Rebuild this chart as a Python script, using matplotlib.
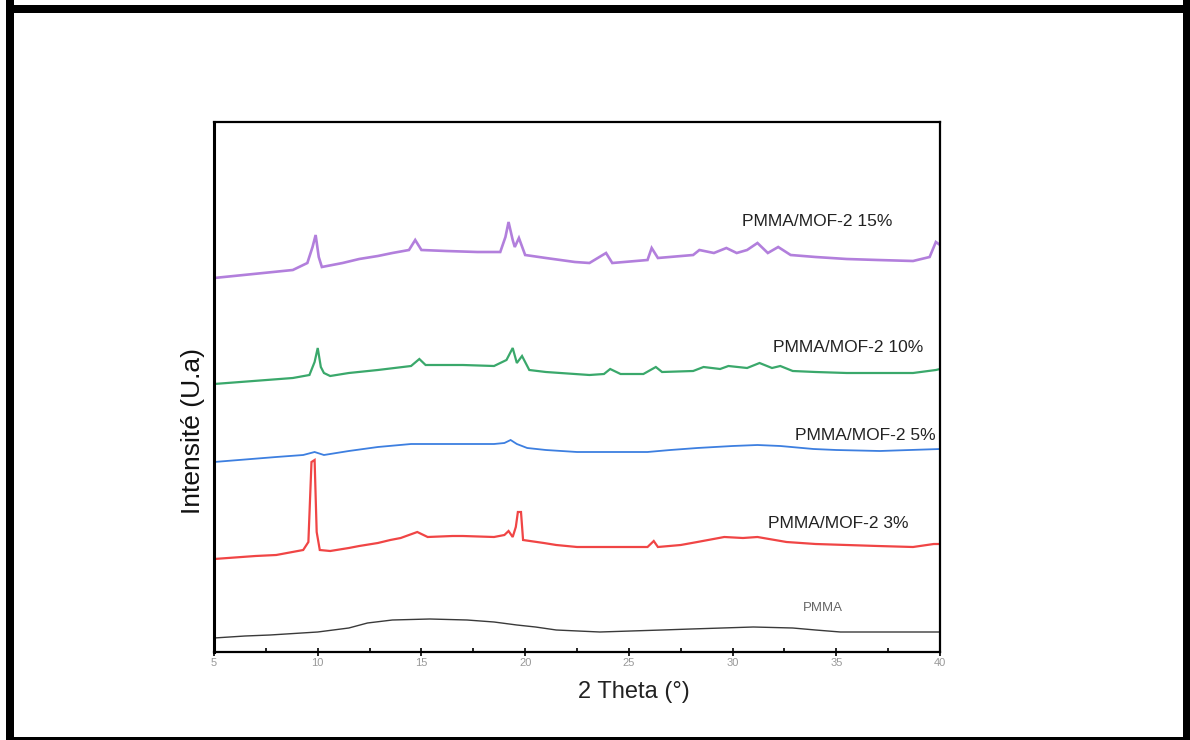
import numpy as np
import matplotlib
matplotlib.use("Agg")
import matplotlib.pyplot as plt
from matplotlib.patches import Rectangle


plt.rcParams['font.family'] = ['Liberation Sans', 'DejaVu Sans']

# values (2 theta in degrees, stacked intensity in a.u.)
theta_pmma = [5.0, 6.5, 7.7, 10.0, 11.5, 12.4, 13.6, 15.4, 17.2, 18.5, 19.6, 20.5, 21.5,
              23.6, 26.6, 28.0, 29.5, 31.0, 32.9, 34.0, 35.2, 37.0, 40.0]
int_pmma = [14, 16, 17, 20, 24, 29, 32, 33, 32, 30, 27, 25, 22,
            20, 22, 23, 24, 25, 24, 22, 20, 20, 20]

theta_3 = [5.0, 7.0, 8.0, 9.3, 9.55, 9.7, 9.85, 9.95, 10.1, 10.6, 11.5, 12.0, 12.9, 13.5,
           14.0, 14.8, 15.3, 16.5, 17.0, 18.5, 19.0, 19.2, 19.4, 19.55, 19.65, 19.8, 19.9,
           20.9, 21.5, 22.5, 23.5, 24.1, 25.9, 26.2, 26.4, 27.5, 28.3, 29.6, 30.5, 31.2,
           32.6, 34.0, 35.5, 37.0, 38.7, 39.7, 40.0]
int_3 = [93, 96, 97, 102, 110, 190, 192, 120, 102, 101, 104, 106, 109, 112,
         114, 120, 115, 116, 116, 115, 117, 121, 115, 125, 140, 140, 112,
         109, 107, 105, 105, 105, 105, 111, 105, 107, 110, 115, 114, 115,
         110, 108, 107, 106, 105, 108, 108]

theta_5 = [5.0, 8.0, 9.3, 9.85, 10.3, 11.5, 12.9, 14.5, 16.0, 17.0, 18.5, 19.0, 19.3,
           19.6, 20.1, 21.0, 22.5, 24.1, 25.9, 27.0, 28.3, 30.0, 31.2, 32.3, 33.9, 35.0,
           37.1, 40.0]
int_5 = [190, 195, 197, 200, 197, 201, 205, 208, 208, 208, 208, 209, 212,
         208, 204, 202, 200, 200, 200, 202, 204, 206, 207, 206, 203, 202,
         201, 203]

theta_10 = [5.0, 8.8, 9.6, 9.85, 10.0, 10.15, 10.3, 10.6, 11.5, 12.9, 13.7, 14.5, 14.9,
            15.2, 16.5, 17.0, 18.5, 19.1, 19.4, 19.6, 19.85, 20.2, 21.0, 21.7, 23.1, 23.8,
            24.1, 24.6, 25.7, 26.3, 26.6, 28.1, 28.6, 29.4, 29.8, 30.7, 31.3, 31.9, 32.3,
            32.9, 34.0, 35.5, 38.7, 39.8, 40.0]
int_10 = [268, 274, 277, 290, 304, 285, 279, 276, 279, 282, 284, 286, 293,
          287, 287, 287, 286, 292, 304, 289, 296, 282, 280, 279, 277, 278,
          283, 278, 278, 285, 280, 281, 285, 283, 286, 284, 289, 284, 286,
          281, 280, 279, 279, 282, 283]

theta_15 = [5.0, 8.8, 9.5, 9.75, 9.9, 10.05, 10.2, 11.2, 12.0, 12.9, 13.6, 14.4, 14.7,
            15.0, 16.2, 17.7, 18.8, 19.05, 19.2, 19.4, 19.5, 19.7, 20.0, 21.0, 21.7, 22.4,
            23.1, 23.9, 24.2, 25.9, 26.1, 26.4, 28.1, 28.4, 29.1, 29.7, 30.2, 30.7, 31.2,
            31.7, 32.2, 32.8, 34.0, 35.5, 37.0, 38.7, 39.5, 39.8, 40.0]
int_15 = [374, 382, 389, 405, 417, 395, 385, 389, 393, 396, 399, 402, 412,
          402, 401, 400, 400, 415, 430, 412, 405, 414, 397, 394, 392, 390,
          389, 399, 389, 392, 404, 394, 397, 402, 399, 404, 399, 402, 409,
          399, 405, 397, 395, 393, 392, 391, 395, 410, 407]

labels = ['PMMA', 'PMMA/MOF-2 3%', 'PMMA/MOF-2 5%', 'PMMA/MOF-2 10%', 'PMMA/MOF-2 15%']
label_x = [33.4, 31.7, 33.0, 31.95, 30.45]
label_y = [44, 128, 217, 305, 430]

colors = ['#3a3a3a', '#f04545', '#3d7fe0', '#3aa86b', '#b27fdc']
widths = [1.0, 1.6, 1.3, 1.6, 1.9]


def add_frame(fig):

    """
    Draws the thick black border around the whole picture.
    """

    W, H = 1190.0, 740.0
    bars = [(6, 0, 8, 740), (6, 727, 1184, 8), (1183, 0, 7, 740), (6, 0, 1184, 3)]
    for x, y, w, h in bars:
        fig.patches.append(Rectangle((x / W, y / H), w / W, h / H, transform=fig.transFigure,
                                     facecolor='black', edgecolor='none', zorder=10))


fig = plt.figure(figsize=(11.9, 7.4), dpi=100)
ax = fig.add_axes([214 / 1190, 88 / 740, 726 / 1190, 530 / 740])

series = [(theta_pmma, int_pmma), (theta_3, int_3), (theta_5, int_5),
          (theta_10, int_10), (theta_15, int_15)]

for (tt, ii), c, lw in zip(series, colors, widths):
    ax.plot(tt, ii, color=c, linewidth=lw, solid_joinstyle='miter')

for i, lab in enumerate(labels):
    if lab == 'PMMA':
        ax.text(label_x[i], label_y[i], lab, fontsize=9.5, color='#666666', ha='left', va='center')
    else:
        ax.text(label_x[i], label_y[i], lab, fontsize=12.5, color='#222222', ha='left', va='center')

ax.set_xlim(5, 40)
ax.set_ylim(0, 530)
ax.set_xticks(np.arange(5, 41, 5))
ax.set_xticks(np.arange(5, 41, 2.5), minor=True)
ax.set_yticks([])
ax.tick_params(axis='x', which='major', direction='inout', length=6, width=1.2,
               labelsize=8, labelcolor='#999999', pad=1)
ax.tick_params(axis='x', which='minor', direction='in', length=3, width=1.2)

for side in ['top', 'right', 'bottom']:
    ax.spines[side].set_linewidth(1.6)
ax.spines['left'].set_linewidth(2.2)

ax.set_xlabel('2 Theta (°)', fontsize=17, color='#222222')
ax.set_ylabel('Intensité (U.a)', fontsize=19, color='#111111')
ax.xaxis.set_label_coords(0.579, -0.055)
ax.yaxis.set_label_coords(-0.012, 0.417)

add_frame(fig)

fig.savefig('out.png', dpi=100, facecolor='white')
